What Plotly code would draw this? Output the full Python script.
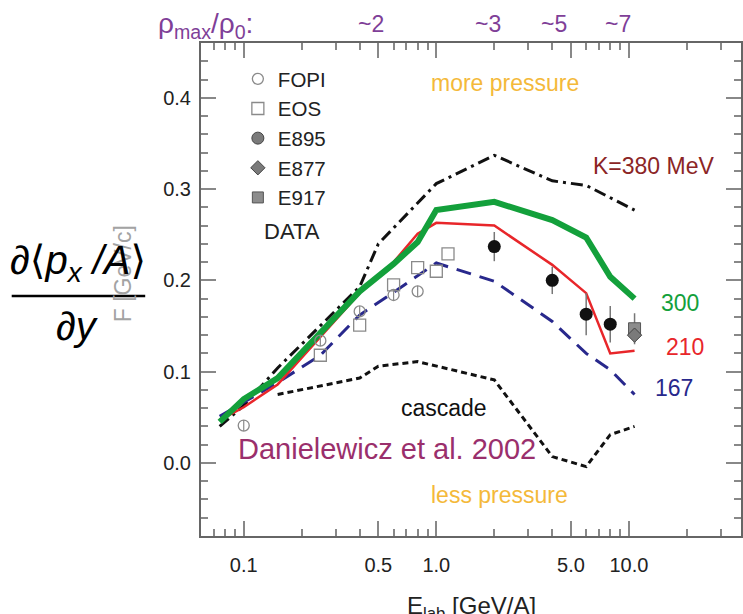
import math
import plotly.graph_objects as go

# ---------------- data ----------------
x_k380 = [0.075, 0.1, 0.15, 0.4, 0.5, 1.0, 2.0, 4.0, 6.0, 10.7]
y_k380 = [0.040, 0.063, 0.104, 0.193, 0.240, 0.306, 0.337, 0.309, 0.304, 0.277]

x_k300 = [0.075, 0.1, 0.15, 0.4, 0.6, 0.8, 1.0, 2.0, 4.0, 6.0, 8.0, 10.7]
y_k300 = [0.045, 0.070, 0.093, 0.188, 0.218, 0.242, 0.277, 0.286, 0.266, 0.247, 0.204, 0.180]

x_k210 = [0.075, 0.1, 0.15, 0.4, 0.6, 0.8, 1.0, 2.0, 4.0, 6.0, 8.0, 10.7]
y_k210 = [0.047, 0.061, 0.086, 0.186, 0.220, 0.251, 0.263, 0.260, 0.217, 0.186, 0.120, 0.123]

x_k167 = [0.075, 0.1, 0.15, 0.25, 0.4, 0.6, 0.8, 1.0, 2.0, 4.0, 6.0, 8.0, 10.7]
y_k167 = [0.051, 0.066, 0.088, 0.118, 0.162, 0.187, 0.205, 0.219, 0.199, 0.155, 0.120, 0.102, 0.075]

x_cascade = [0.15, 0.4, 0.5, 0.8, 2.0, 4.0, 6.0, 8.0, 10.7]
y_cascade = [0.075, 0.093, 0.106, 0.111, 0.091, 0.007, -0.004, 0.031, 0.040]

fopi_x = [0.1, 0.25, 0.4, 0.6, 0.8]
fopi_y = [0.041, 0.134, 0.166, 0.184, 0.188]
fopi_err = [0.006, 0.006, 0.006, 0.006, 0.006]

eos_x = [0.25, 0.4, 0.6, 0.8, 1.0, 1.15]
eos_y = [0.118, 0.151, 0.195, 0.214, 0.210, 0.229]

e895_x = [2.0, 4.0, 6.0, 8.0]
e895_y = [0.237, 0.200, 0.163, 0.152]
e895_err = [0.016, 0.015, 0.023, 0.020]

e877_x = [10.7]
e877_y = [0.140]
e917_x = [10.7]
e917_y = [0.147]
e917_err = [0.017]

x_tickvals = [0.1, 0.5, 1.0, 5.0, 10.0]
x_ticktext = ["0.1", "0.5", "1.0", "5.0", "10.0"]
x_minorvals = [0.06, 0.07, 0.08, 0.09, 0.2, 0.3, 0.4, 0.6, 0.7, 0.8, 0.9,
               2, 3, 4, 6, 7, 8, 9, 20, 30]
y_tickvals = [0.0, 0.1, 0.2, 0.3, 0.4]

rho_labels = ["~2", "~3", "~5", "~7"]
rho_x = [0.46, 1.85, 4.1, 8.8]

legend_names = ["FOPI", "EOS", "E895", "E877", "E917"]

# ---------------- layout helpers ----------------
W, H = 743, 614
ML, MR, MT, MB = 201, 0, 43, 78
PW = W - ML - MR
PH = H - MT - MB


def px(xp):
    return (xp - ML) / PW


def py(yp):
    return (H - MB - yp) / PH


FONT = "Liberation Sans, Arial, DejaVu Sans, sans-serif"
GREEN = "#13a03b"
RED = "#e8262a"
NAVY = "#28288c"
ORANGE = "#f4b93a"
PURPLE = "#7f3f98"

fig = go.Figure()

# model curves
fig.add_trace(go.Scatter(x=x_cascade, y=y_cascade, mode="lines",
                         line=dict(color="#111111", width=3, dash="6px,4px"),
                         showlegend=False, hoverinfo="skip"))
fig.add_trace(go.Scatter(x=x_k380, y=y_k380, mode="lines",
                         line=dict(color="#111111", width=3, dash="12px,5px,3px,5px"),
                         showlegend=False, hoverinfo="skip"))
fig.add_trace(go.Scatter(x=x_k167, y=y_k167, mode="lines",
                         line=dict(color=NAVY, width=3, dash="15px,9px"),
                         showlegend=False, hoverinfo="skip"))
fig.add_trace(go.Scatter(x=x_k210, y=y_k210, mode="lines",
                         line=dict(color=RED, width=2.5),
                         showlegend=False, hoverinfo="skip"))
fig.add_trace(go.Scatter(x=x_k300, y=y_k300, mode="lines",
                         line=dict(color=GREEN, width=6),
                         showlegend=False, hoverinfo="skip"))

# data points
fig.add_trace(go.Scatter(x=fopi_x, y=fopi_y, mode="markers",
                         marker=dict(symbol="circle-open", size=11, color="#8a8a8a",
                                     line=dict(width=1.3, color="#8a8a8a")),
                         error_y=dict(type="data", array=fopi_err, color="#8a8a8a",
                                      thickness=1.2, width=0),
                         showlegend=False))
fig.add_trace(go.Scatter(x=eos_x, y=eos_y, mode="markers",
                         marker=dict(symbol="square-open", size=12, color="#8a8a8a",
                                     line=dict(width=1.3, color="#8a8a8a")),
                         showlegend=False))
fig.add_trace(go.Scatter(x=e895_x, y=e895_y, mode="markers",
                         marker=dict(symbol="circle", size=13, color="#111111"),
                         error_y=dict(type="data", array=e895_err, color="#777777",
                                      thickness=1.5, width=0),
                         showlegend=False))
fig.add_trace(go.Scatter(x=e917_x, y=e917_y, mode="markers",
                         marker=dict(symbol="square", size=12, color="#8c8c8c",
                                     line=dict(width=1, color="#555555")),
                         error_y=dict(type="data", array=e917_err, color="#777777",
                                      thickness=1.5, width=0),
                         showlegend=False))
fig.add_trace(go.Scatter(x=e877_x, y=e877_y, mode="markers",
                         marker=dict(symbol="diamond", size=11, color="#7a7a7a",
                                     line=dict(width=1, color="#444444")),
                         showlegend=False))

# legend-only entries
leg_styles = [
    dict(symbol="circle-open", size=11, color="#8a8a8a", line=dict(width=1.3, color="#8a8a8a")),
    dict(symbol="square-open", size=12, color="#8a8a8a", line=dict(width=1.3, color="#8a8a8a")),
    dict(symbol="circle", size=12, color="#7a7a7a", line=dict(width=1, color="#444444")),
    dict(symbol="diamond", size=11, color="#7a7a7a", line=dict(width=1, color="#444444")),
    dict(symbol="square", size=11, color="#8c8c8c", line=dict(width=1, color="#555555")),
]
for name, st in zip(legend_names, leg_styles):
    fig.add_trace(go.Scatter(x=[None], y=[None], mode="markers", name=name,
                             marker=st, showlegend=True))

axis_common = dict(showgrid=False, zeroline=False, showline=True,
                   linecolor="#666666", linewidth=2,
                   ticks="inside", ticklen=15, tickwidth=1.5, tickcolor="#888888",
                   tickfont=dict(family=FONT, size=20, color="#222222"))

fig.update_xaxes(type="log", range=[math.log10(0.06), math.log10(38.2)],
                 tickvals=x_tickvals, ticktext=x_ticktext, mirror="allticks",
                 minor=dict(tickvals=x_minorvals, ticks="inside", ticklen=7,
                            tickwidth=1.5, tickcolor="#888888"),
                 ticklabelstandoff=10, **axis_common)
fig.update_yaxes(range=[-0.08, 0.46], tickvals=y_tickvals, tickformat=".1f",
                 mirror="allticks",
                 minor=dict(dtick=0.02, tick0=0, ticks="inside", ticklen=7,
                            tickwidth=1.5, tickcolor="#888888"),
                 ticklabelstandoff=4, **axis_common)

ann = []


def text(x, y, s, size, color, xanchor="center", yanchor="middle", xref="paper", angle=0):
    ann.append(dict(x=x, y=y, text=s, xref=xref, yref="paper", showarrow=False,
                    xanchor=xanchor, yanchor=yanchor, textangle=angle,
                    font=dict(family=FONT, size=size, color=color)))


# y axis title (fraction) and gray F label
text(px(123), py(274), "F [GeV/c]", 23, "#a3a3a3", angle=-90)
text(px(78), py(263), "∂⟨<i>p</i><sub><i>x</i></sub><i> /A</i>⟩", 40, "#000000")
text(px(77), py(326), "∂<i>y</i>", 40, "#000000")

# x axis title
text(px(472), py(590), "E<sub>lab</sub> [GeV/A]", 24, "#222222", yanchor="top")

# top density labels
text(px(156), py(25), "ρ<sub>max</sub>/ρ<sub>0</sub>:", 28, PURPLE, xanchor="left")
for lab, xv in zip(rho_labels, rho_x):
    text(math.log10(xv), py(24), lab, 23, PURPLE, xref="x")

text(px(506), py(83), "more pressure", 23, ORANGE)
text(px(501), py(495), "less pressure", 23, ORANGE)
text(px(655), py(166), "K=380 MeV", 23, "#8b2525")
text(px(682), py(303), "300", 23, GREEN)
text(px(687), py(347), "210", 23, RED)
text(px(676), py(388), "167", 23, NAVY)
text(px(445), py(408), "cascade", 23, "#111111")
text(px(388), py(449), "Danielewicz et al. 2002", 29, "#9a2f6c")
text(px(292), py(231), "DATA", 22, "#222222")

fig.update_layout(
    width=W, height=H,
    margin=dict(l=ML, r=MR, t=MT, b=MB, pad=0),
    paper_bgcolor="white", plot_bgcolor="white",
    annotations=ann,
    shapes=[dict(type="line", xref="paper", yref="paper",
                 x0=px(11), x1=px(145), y0=py(296), y1=py(296),
                 line=dict(color="#000000", width=2.5))],
    legend=dict(x=px(238), y=py(59), xanchor="left", yanchor="top",
                bgcolor="rgba(0,0,0,0)", borderwidth=0,
                font=dict(family=FONT, size=20.5, color="#222222")),
    showlegend=True,
)

fig.write_html("out.html", config={"displayModeBar": False},
               post_script="document.body.style.margin='0';document.body.style.overflow='hidden';")
